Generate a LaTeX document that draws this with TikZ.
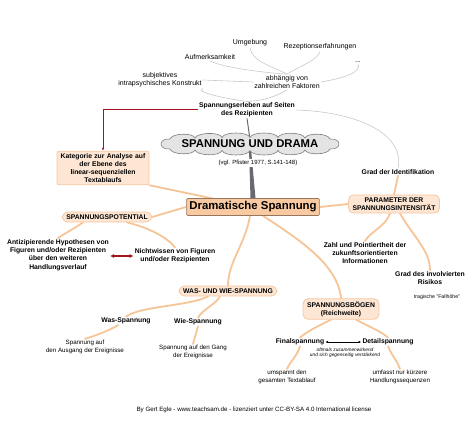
\documentclass[tikz,border=0pt]{standalone}
\usepackage{fontspec}
\setmainfont{Liberation Sans}
\usetikzlibrary{arrows.meta,backgrounds}
\definecolor{mapbranch}{RGB}{246,196,150}
\definecolor{mappill}{RGB}{253,230,212}
\definecolor{mappillline}{RGB}{246,200,162}
\definecolor{mapmain}{RGB}{249,202,162}
\definecolor{mapmainline}{RGB}{150,118,92}
\definecolor{mapred}{RGB}{165,20,30}
\definecolor{mapgrey}{RGB}{200,200,200}
\definecolor{mapcloud}{RGB}{228,228,228}
\definecolor{mapcloudline}{RGB}{125,125,125}
\definecolor{mapstem}{RGB}{105,105,112}
\tikzset{
	lbl/.style={font=\fontsize{7}{8.2}\selectfont, align=center, inner sep=1pt},
	slbl/.style={font=\fontsize{6.2}{8}\selectfont, align=center, inner sep=1pt},
	blbl/.style={font=\bfseries\fontsize{6.8}{8.2}\selectfont, align=center, inner sep=1pt},
	hint/.style={font=\itshape\fontsize{4.8}{5.4}\selectfont, align=center, inner sep=0.5pt},
	pill/.style={blbl, draw=mappillline, fill=mappill, line width=0.8pt, rounded corners=6pt, inner xsep=4pt, inner ysep=2.6pt},
	katbox/.style={blbl, draw=mappillline, fill=mappill, line width=0.8pt, rounded corners=2pt, text width=88pt, inner sep=2pt},
	mainbox/.style={draw=mapmainline, fill=mapmain, line width=0.6pt, rounded corners=1.5pt, font=\bfseries\fontsize{11.4}{13}\selectfont, inner xsep=3pt, inner ysep=3.2pt},
	titletext/.style={font=\bfseries\fontsize{11.3}{13}\selectfont, inner sep=0.5pt},
	cloudline/.style={draw=mapcloudline, fill=mapcloud, line width=0.6pt},
	spline/.style={draw=mapbranch, line width=1.8pt, line cap=round},
	greyline/.style={draw=mapgrey, line width=0.6pt},
	redline/.style={draw=mapred, line width=1pt}
}

\begin{document}
\begin{tikzpicture}[x=1pt,y=-1pt]
	
	\useasboundingbox (0,0) rectangle (474,422);
	
	% factors on top
	\node[lbl] (umg) at (250,43) {Umgebung};
	\node[lbl] (rez) at (320,47) {Rezeptionserfahrungen};
	\node[lbl] (auf) at (210,57) {Aufmerksamkeit};
	\node[lbl] (dots) at (358,62) {...};
	\node[lbl] (subj) at (160,80) {subjektives\\intrapsychisches Konstrukt};
	\node[lbl] (abh) at (287,82) {abhängig von\\zahlreichen Faktoren};
	\node[blbl] (erl) at (247,110) {Spannungserleben auf Seiten\\des Rezipienten};
	
	% centre
	\node[titletext] (title) at (250,144) {SPANNUNG UND DRAMA};
	\node[slbl, font=\fontsize{6}{7}\selectfont, fill=white] (vgl) at (258,163) {(vgl. Pfister 1977, S.141-148)};
	\node[mainbox] (dram) at (253,207) {Dramatische Spannung};
	
	% left side
	\node[katbox] (kat) at (103,168) {Kategorie zur Analyse auf\\der Ebene des\\linear-sequenziellen\\Textablaufs};
	\node[pill] (pot) at (107,217) {SPANNUNGSPOTENTIAL};
	\node[blbl] (anti) at (58,255) {Antizipierende Hypothesen von\\Figuren und/oder Rezipienten\\über den weiteren\\Handlungsverlauf};
	\node[blbl] (nicht) at (175,256) {Nichtwissen von Figuren\\und/oder Rezipienten};
	
	% right side
	\node[pill, rounded corners=5pt] (param) at (394,204) {PARAMETER DER\\SPANNUNGSINTENSITÄT};
	\node[blbl] (ident) at (398,172) {Grad der Identifikation};
	\node[blbl] (zahl) at (365,253) {Zahl und Pointiertheit der\\zukunftsorientierten\\Informationen};
	\node[blbl] (risk) at (430,278) {Grad des involvierten\\Risikos};
	\node[slbl, font=\fontsize{5.2}{6}\selectfont] (fall) at (437,297) {tragische "Fallhöhe"};
	
	% bottom
	\node[pill] (wie) at (228,291) {WAS- UND WIE-SPANNUNG};
	\node[blbl] (wass) at (126,321) {Was-Spannung};
	\node[blbl] (wies) at (198,322) {Wie-Spannung};
	\node[slbl] (ausg) at (85,347) {Spannung auf\\den Ausgang der Ereignisse};
	\node[slbl] (gang) at (193,352) {Spannung auf den Gang\\der Ereignisse};
	
	\node[pill, rounded corners=5pt] (boegen) at (341,309) {SPANNUNGSBÖGEN\\(Reichweite)};
	\node[blbl] (final) at (300,342) {Finalspannung};
	\node[blbl] (detail) at (388,342) {Detailspannung};
	\node[hint] (oft) at (345,353) {oftmals zusammenwirkend\\und sich gegenseitig verstärkend};
	\node[slbl] (umsp) at (287,377) {umspannt den\\gesamten Textablauf};
	\node[slbl] (umfa) at (400,377) {umfasst nur kürzere\\Handlungssequenzen};
	
	\node[slbl] (foot) at (254,410) {By Gert Egle - www.teachsam.de - lizenziert unter CC-BY-SA 4.0 International license};
	
	\begin{pgfonlayer}{background}
		% grey links
		\draw[greyline] (abh.north) .. controls (272,66) and (252,62) .. (umg.south);
		\draw[greyline] (abh.north) .. controls (300,66) and (318,60) .. (rez.south);
		\draw[greyline] (abh.north) .. controls (255,72) and (218,66) .. (auf.south);
		\draw[greyline] (abh.east) .. controls (345,78) and (362,72) .. (dots.south);
		\draw[greyline] (subj.east) -- (abh.west);
		\draw[greyline] (subj.south east) .. controls (195,92) and (222,98) .. (erl.north);
		\draw[greyline] (abh.south) .. controls (276,96) and (268,100) .. (erl.north);
		\draw[greyline] (erl.east) .. controls (360,112) and (405,135) .. (ident.north);
		% stem
		\draw[draw=mapstem, line width=1pt] (erl.south) -- (title.north);
		\fill[mapstem] ([xshift=-1pt]title.south) -- ([xshift=1pt]title.south) -- ([xshift=2.5pt]dram.north) -- ([xshift=-2.5pt]dram.north) -- cycle;
		% cloud
		\draw[cloudline] (330,139)
			.. controls (328,133) and (307,132.5) .. (305,138)
			.. controls (303,132) and (280,131.5) .. (278,137.5)
			.. controls (276,131.5) and (252,131.5) .. (250,137.5)
			.. controls (248,131.5) and (224,131.5) .. (222,137.5)
			.. controls (220,131.5) and (197,132.5) .. (195,138)
			.. controls (193,132.5) and (172,133) .. (170,139)
			.. controls (158,138) and (158,150) .. (170,149)
			.. controls (172,155) and (193,155.5) .. (195,150)
			.. controls (197,156) and (220,156.5) .. (222,150.5)
			.. controls (224,156.5) and (248,156.5) .. (250,150.5)
			.. controls (252,156.5) and (276,156.5) .. (278,150.5)
			.. controls (280,156.5) and (303,156) .. (305,150)
			.. controls (307,155.5) and (328,155) .. (330,149)
			.. controls (342,150) and (342,138) .. (330,139) -- cycle;
		% orange branches
		\draw[spline] (kat.south east) -- (dram.center);
		\draw[spline] (pot.east) -- (dram.west);
		\draw[spline] (dram.east) -- (param.west);
		\draw[spline] ([xshift=-24pt]pot.south) .. controls (72,230) and (60,236) .. (anti.north);
		\draw[spline] ([xshift=20pt]pot.south) .. controls (150,228) and (168,238) .. (nicht.north);
		\draw[spline] (ident.south) -- (param.north);
		\draw[spline] ([xshift=-4pt]param.south) .. controls (386,226) and (370,232) .. (zahl.north);
		\draw[spline] ([xshift=6pt]param.south) .. controls (412,235) and (430,250) .. (risk.north);
		\draw[spline] ([xshift=-3pt]dram.south) .. controls (245,245) and (228,262) .. (wie.north);
		\draw[spline] ([xshift=10pt]dram.south) .. controls (300,240) and (338,265) .. (boegen.north);
		\draw[spline] ([xshift=-20pt]wie.south) .. controls (190,306) and (140,306) .. (wass.north);
		\draw[spline] ([xshift=-8pt]wie.south) .. controls (214,306) and (204,308) .. (wies.north);
		\draw[spline] ([xshift=-8pt]wass.south) .. controls (106,332) and (94,336) .. (ausg.north);
		\draw[spline] (wies.south) -- (gang.north);
		\draw[spline] ([xshift=-10pt]boegen.south) .. controls (318,326) and (306,332) .. (final.north);
		\draw[spline] ([xshift=15pt]boegen.south) .. controls (368,326) and (382,332) .. (detail.north);
		\draw[spline] (final.south) .. controls (297,356) and (290,362) .. (umsp.north);
		\draw[spline] (detail.south) .. controls (392,356) and (398,362) .. (umfa.north);
	\end{pgfonlayer}
	
	% arrows
	\draw[redline, -{Latex[length=3pt,width=2.6pt]}] (erl.west) -| (kat.north);
	\draw[redline, line width=1.2pt, {Latex[length=4pt,width=4pt]}-{Latex[length=4pt,width=4pt]}] (anti.east |- nicht.west) -- (nicht.west);
	\draw[line width=0.6pt, {Latex[length=2.8pt,width=2.6pt]}-{Latex[length=2.8pt,width=2.6pt]}] (final.east) -- (detail.west);
	
\end{tikzpicture}
\end{document}
